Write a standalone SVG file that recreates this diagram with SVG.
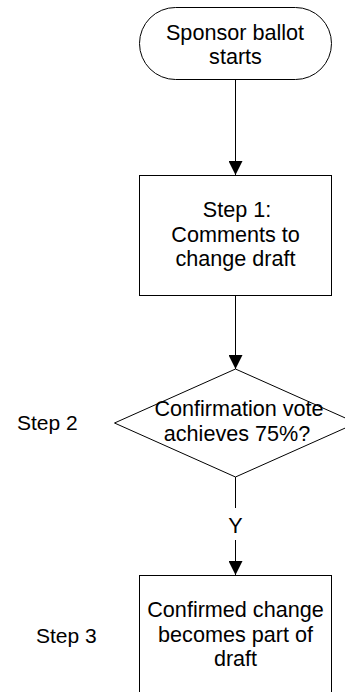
<svg xmlns="http://www.w3.org/2000/svg" width="345" height="692" viewBox="0 0 345 692">
<defs>
<marker id="arr" markerUnits="userSpaceOnUse" markerWidth="14" markerHeight="14" viewBox="0 0 14 14" refX="14" refY="7" orient="auto">
<path d="M0,0 L14,7 L0,14 Z" fill="#000"/>
</marker>
<style>
.shape{fill:#fff;stroke:#000;stroke-width:1}
.conn{fill:none;stroke:#000;stroke-width:1}
.t{font-family:"Liberation Sans",Arial,sans-serif;font-size:21.6px;fill:#000;text-anchor:middle}
.l{font-family:"Liberation Sans",Arial,sans-serif;font-size:21px;fill:#000}
</style>
</defs>
<rect width="345" height="692" fill="#fff"/>
<g id="connectors">
<line class="conn" x1="235.5" y1="79.5" x2="235.5" y2="175" marker-end="url(#arr)"/>
<line class="conn" x1="235.5" y1="295.5" x2="235.5" y2="369" marker-end="url(#arr)"/>
<line class="conn" x1="235.5" y1="477" x2="235.5" y2="508"/>
<line class="conn" x1="235.5" y1="540" x2="235.5" y2="575" marker-end="url(#arr)"/>
<text class="t" x="235.5" y="533">Y</text>
</g>
<g id="start">
<rect class="shape" x="139.5" y="7.5" width="192" height="72" rx="36" ry="36"/>
<text class="t" x="235" y="39.5">Sponsor ballot</text>
<text class="t" x="235.5" y="64">starts</text>
</g>
<g id="step1">
<rect class="shape" x="139.5" y="175.5" width="192" height="120"/>
<text class="t" x="237" y="216.5">Step 1:</text>
<text class="t" x="235.5" y="241.5">Comments to</text>
<text class="t" x="235.5" y="266">change draft</text>
</g>
<g id="step2">
<polygon class="shape" points="235.5,369 356.5,423 235.5,477 114.5,423"/>
<text class="t" x="239" y="416">Confirmation vote</text>
<text class="t" x="237" y="441">achieves 75%?</text>
</g>
<g id="step2-label">
<text class="l" x="17" y="430">Step 2</text>
</g>
<g id="step3">
<rect class="shape" x="139.5" y="575.5" width="192" height="130"/>
<text class="t" x="235.5" y="616.5">Confirmed change</text>
<text class="t" x="235.5" y="641.5">becomes part of</text>
<text class="t" x="235.5" y="666">draft</text>
</g>
<g id="step3-label">
<text class="l" x="36" y="643">Step 3</text>
</g>
</svg>
